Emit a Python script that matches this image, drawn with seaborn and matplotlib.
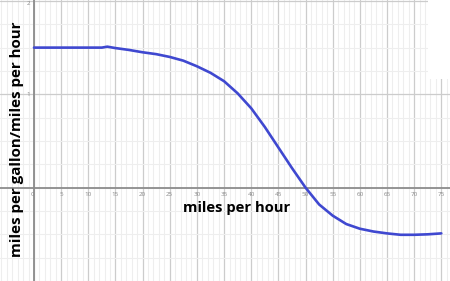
import matplotlib
matplotlib.use("Agg")
import matplotlib.pyplot as plt
import seaborn as sns
import pandas as pd
import numpy as np
from matplotlib.patches import Rectangle

speed = [0, 5, 10, 12.5, 13.5, 15, 17.5, 20, 22.5, 25, 27.5, 30, 32.5, 35, 37.5,
         40, 42.5, 45, 47.5, 50, 52.5, 55, 57.5, 60, 62.5, 65, 67.5, 70, 72.5, 75]
ratio = [1.5, 1.5, 1.5, 1.5, 1.51, 1.495, 1.475, 1.45, 1.43, 1.40, 1.36, 1.30, 1.23, 1.14, 1.01,
         0.85, 0.65, 0.43, 0.21, 0.0, -0.18, -0.30, -0.39, -0.44, -0.47, -0.49, -0.505, -0.505, -0.50, -0.49]
x_ticks = [0, 5, 10, 15, 20, 25, 30, 35, 40, 45, 50, 55, 60, 65, 70, 75]
y_ticks = [1, 2]

df = pd.DataFrame({"speed": speed, "ratio": ratio})

sns.set_style("white")
plt.rcParams['font.family'] = ['Open Sans', 'DejaVu Sans']

fig = plt.figure(figsize=(4.5, 2.81), dpi=100)
ax = fig.add_axes([0, 0, 1, 1])

ax.set_xlim(-6.26, 76.6)
ax.set_ylim(-1.0, 2.01)

# grid
ax.set_xticks(x_ticks)
ax.set_xticks(np.arange(-6, 77, 1), minor=True)
ax.set_yticks(y_ticks)
ax.set_yticks(np.arange(-1, 2.01, 0.25), minor=True)
ax.grid(which='minor', color='#eeeeee', linewidth=0.8, zorder=0)
ax.grid(which='major', color='#cccccc', linewidth=0.9, zorder=0)
ax.set_axisbelow(True)

sns.lineplot(data=df, x="speed", y="ratio", ax=ax, color='#3f48d0', linewidth=1.9, zorder=3)

for s in ['top', 'right']:
    ax.spines[s].set_visible(False)
ax.spines['bottom'].set_position(('data', 0))
ax.spines['left'].set_position(('data', 0))
ax.spines['bottom'].set_color('#8c8c8c')
ax.spines['left'].set_color('#8c8c8c')
ax.spines['bottom'].set_linewidth(1.3)
ax.spines['left'].set_linewidth(1.3)

ax.set_xticklabels([str(t) for t in x_ticks])
ax.set_yticklabels([str(t) for t in y_ticks])
ax.tick_params(axis='both', which='both', length=0, labelsize=4.5, labelcolor='#888888', pad=3)
for lab in ax.get_yticklabels():
    if lab.get_text() == '2':
        lab.set_va('top')
for lab in ax.get_xticklabels():
    if lab.get_text() == '0':
        lab.set_ha('right')
ax.set_xlabel("")
ax.set_ylabel("")

ax.text(237, 281 - 208, "miles per hour", fontsize=10.6, fontweight='bold', color='black',
        ha='center', va='center', transform=None)
ax.text(17, 281 - 139, "miles per gallon/miles per hour", fontsize=10.9, fontweight='bold',
        color='black', ha='center', va='center', rotation=90, transform=None)

# white patch top right
ax.add_patch(Rectangle((428 / 450, 1 - 79 / 281), 22 / 450, 79 / 281, transform=ax.transAxes,
                       facecolor='white', edgecolor='none', zorder=2, clip_on=False))

fig.savefig("out.png", dpi=100)
